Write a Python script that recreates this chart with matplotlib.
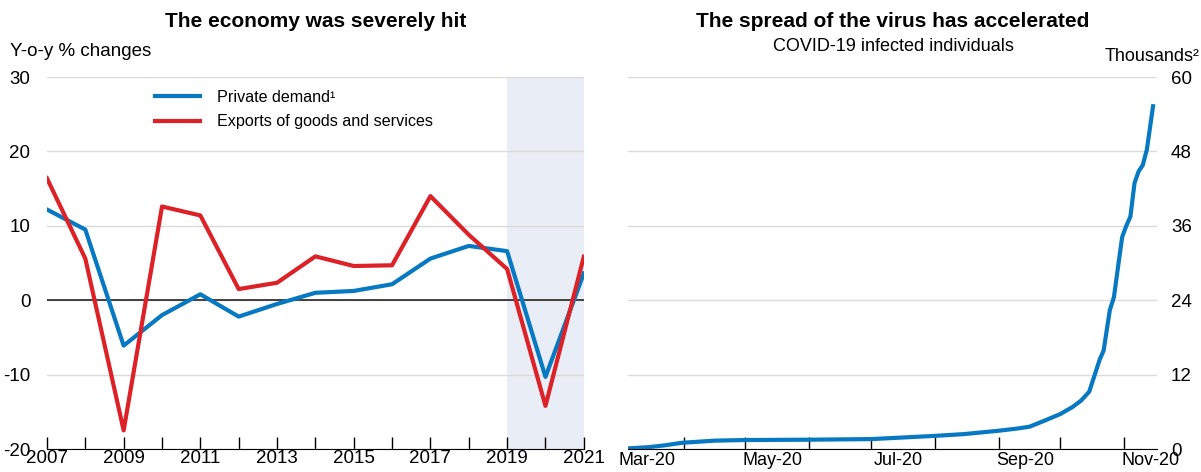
import numpy as np
import matplotlib.pyplot as plt
import matplotlib.dates as mdates

plt.rcParams['font.family'] = ['Liberation Sans', 'DejaVu Sans']

# left panel data
years = list(range(2007, 2022))
private_demand = [12.2, 9.5, -6.1, -2.0, 0.8, -2.2, -0.5, 1.0, 1.25, 2.15, 5.6, 7.3, 6.6, -10.3, 3.6]
exports = [16.4, 5.6, -17.5, 12.6, 11.4, 1.5, 2.35, 5.9, 4.6, 4.7, 14.0, 8.8, 4.2, -14.2, 5.85]

# right panel data (thousands of infected individuals)
covid_dates = ['2020-03-05', '2020-03-15', '2020-03-23', '2020-03-31', '2020-04-16',
               '2020-05-01', '2020-05-31', '2020-07-01', '2020-07-31', '2020-08-15',
               '2020-09-01', '2020-09-10', '2020-09-16', '2020-09-22', '2020-10-01',
               '2020-10-07', '2020-10-11', '2020-10-15', '2020-10-20', '2020-10-22',
               '2020-10-25', '2020-10-27', '2020-10-29', '2020-10-31', '2020-11-02',
               '2020-11-04', '2020-11-06', '2020-11-08', '2020-11-10', '2020-11-12',
               '2020-11-15']
covid_cases = [0.1, 0.3, 0.6, 1.0, 1.35,
               1.45, 1.5, 1.6, 2.1, 2.4,
               2.95, 3.3, 3.6, 4.4, 5.65,
               6.8, 7.8, 9.25, 14.35, 15.9,
               22.4, 24.5, 29.4, 34.2, 36.0,
               37.5, 42.9, 44.8, 45.8, 48.3,
               55.3]

BLUE = '#0679C2'
RED = '#DC2127'
GRID = '#DADADA'

fig = plt.figure(figsize=(12.01, 4.72), dpi=100)

# ---------------- left panel ----------------
ax1 = fig.add_axes([0.0391, 0.0487, 0.447, 0.788])
ax1.axvspan(2019, 2021, color='#E9EDF5', zorder=0, lw=0)
ax1.plot(years, private_demand, color=BLUE, lw=3, label='Private demand\u00b9', zorder=3)
ax1.plot(years, exports, color=RED, lw=3, label='Exports of goods and services', zorder=3)
ax1.axhline(0, color='#333333', lw=1.3, zorder=2)
ax1.set_xlim(2007, 2021)
ax1.set_ylim(-20, 30)
ax1.set_yticks([-20, -10, 0, 10, 20, 30])
ax1.set_yticklabels(['-20', '-10', '0', '10', '20', '30'])
ax1.set_xticks(years)
ax1.set_xticklabels([str(y) if (y - 2007) % 2 == 0 else '' for y in years])
ax1.grid(axis='y', color=GRID, lw=1, zorder=1)
ax1.set_axisbelow(True)
for s in ['top', 'right', 'left']:
    ax1.spines[s].set_visible(False)
ax1.spines['bottom'].set_color('black')
ax1.tick_params(axis='x', direction='in', length=9, width=1, labelsize=13.5, pad=1)
ax1.tick_params(axis='y', length=0, labelsize=13.5, pad=12)
ax1.legend(loc='upper left', bbox_to_anchor=(0.175, 1.005), frameon=False, fontsize=11.6,
           handlelength=2.75, handletextpad=1.1, labelspacing=0.6)

fig.text(0.263, 0.955, 'The economy was severely hit', ha='center', va='center',
         fontsize=15, fontweight='bold')
fig.text(0.008, 0.89, 'Y-o-y % changes', ha='left', va='center', fontsize=13.5)

# ---------------- right panel ----------------
ax2 = fig.add_axes([0.523, 0.0487, 0.4405, 0.788])
xd = np.array(covid_dates, dtype='datetime64[D]')
ax2.plot(xd, covid_cases, color=BLUE, lw=3, zorder=3)
ax2.set_xlim(np.datetime64('2020-03-05'), np.datetime64('2020-11-17'))
ax2.set_ylim(0, 60)
ax2.set_yticks([0, 12, 24, 36, 48, 60])
ax2.yaxis.tick_right()
ax2.grid(axis='y', color=GRID, lw=1, zorder=1)
ax2.set_axisbelow(True)
for s in ['top', 'right', 'left']:
    ax2.spines[s].set_visible(False)
ax2.spines['bottom'].set_color('black')
ax2.xaxis.set_major_locator(mdates.MonthLocator(bymonth=range(4, 12)))
ax2.xaxis.set_major_formatter(plt.NullFormatter())
ax2.xaxis.set_minor_locator(mdates.MonthLocator(bymonth=[3, 5, 7, 9, 11], bymonthday=14))
ax2.xaxis.set_minor_formatter(mdates.DateFormatter('%b-%y'))
ax2.tick_params(axis='x', which='major', direction='in', length=9, width=1)
ax2.tick_params(axis='x', which='minor', length=0, labelsize=13, pad=2)
ax2.tick_params(axis='y', length=0, labelsize=13.5, pad=10)

fig.text(0.7435, 0.955, 'The spread of the virus has accelerated', ha='center', va='center',
         fontsize=15, fontweight='bold')
fig.text(0.7435, 0.902, 'COVID-19 infected individuals', ha='center', va='center', fontsize=13)
fig.text(0.999, 0.88, 'Thousands\u00b2', ha='right', va='center', fontsize=13)

fig.savefig('out.png', dpi=100)
